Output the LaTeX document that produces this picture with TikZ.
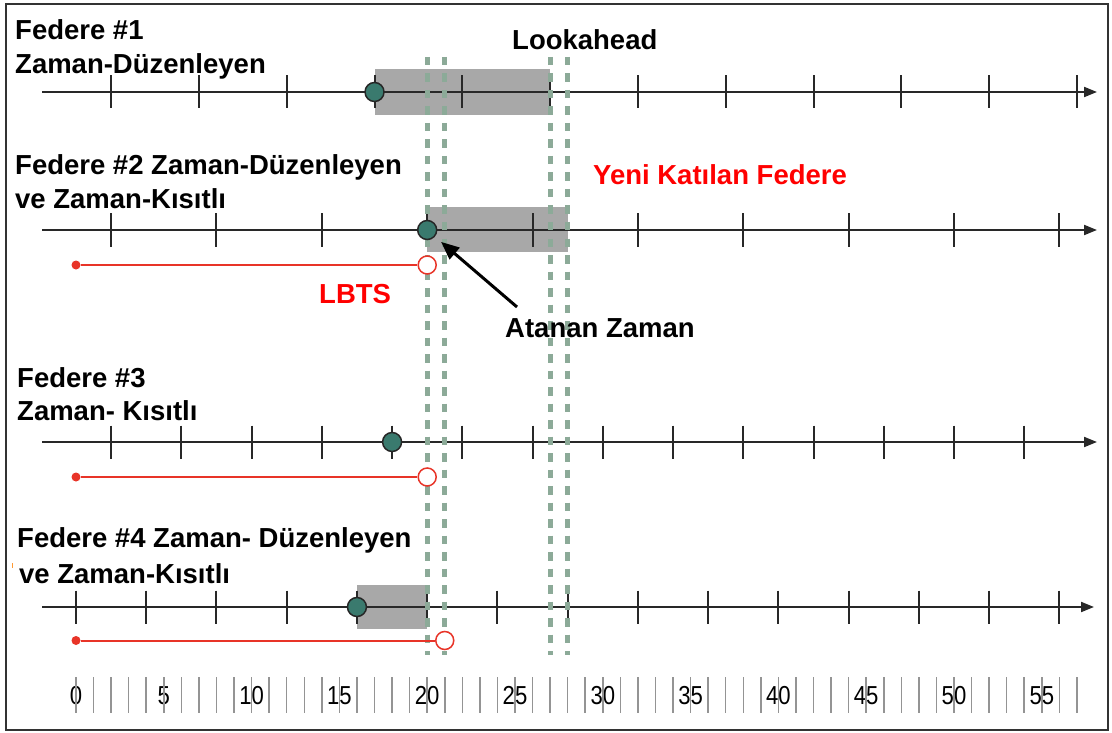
\documentclass[tikz,border=0pt]{standalone}
\usepackage{fontspec}
\setmainfont{Liberation Sans}
\usetikzlibrary{arrows.meta}
\definecolor{teal1}{RGB}{58,122,110}
\definecolor{redl}{RGB}{232,52,40}
\definecolor{guide}{RGB}{140,170,152}
\definecolor{boxg}{RGB}{168,168,168}
\definecolor{axisc}{RGB}{40,40,40}
\newcommand{\nx}[1]{\scalebox{0.85}[1]{#1}}
\begin{document}
\begin{tikzpicture}[x=1pt,y=-1pt,
 lab/.style={font=\fontsize{27.5}{32}\selectfont\bfseries, inner sep=0pt, anchor=base west},
 redlab/.style={lab, text=red},
 axisline/.style={draw=axisc, line width=2pt, -{Triangle[length=13pt,width=10pt]}},
 tickline/.style={draw=axisc, line width=2pt},
 lbox/.style={fill=boxg},
 guideline/.style={draw=guide, line width=5pt, dash pattern=on 8.5pt off 8pt},
 evt/.style={circle, fill=teal1, draw=black!85, line width=1.5pt, minimum size=19pt, inner sep=0pt},
 lstart/.style={circle, fill=redl, minimum size=9pt, inner sep=0pt},
 lend/.style={circle, fill=white, draw=redl, line width=1.5pt, minimum size=18pt, inner sep=0pt},
 lbtsline/.style={draw=redl, line width=2pt},
 rulerline/.style={draw=black!42, line width=1.5pt},
 num/.style={font=\fontsize{26}{28}\selectfont, text=black, inner sep=0pt},
]
\useasboundingbox (0,0) rectangle (1112,733);
\fill[white] (0,0) rectangle (1112,733);
\draw[black!80, line width=2.5pt] (6,4) rectangle (1108,730);

% lookahead boxes
\fill[lbox] ({76+17.56*17},69) rectangle ({76+17.56*27},115);
\fill[lbox] ({76+17.56*20},207) rectangle ({76+17.56*28},252);
\fill[lbox] ({76+17.56*16},585) rectangle ({76+17.56*20},629);

% axes
\draw[axisline] (42,92) -- (1097,92);
\foreach \u in {2,7,...,57} \draw[tickline] ({76+17.56*\u},75.5) -- ++(0,33);
\draw[axisline] (42,230) -- (1097,230);
\foreach \u in {2,8,...,56} \draw[tickline] ({76+17.56*\u},213.5) -- ++(0,33);
\draw[axisline] (42,442) -- (1097,442);
\foreach \u in {2,6,...,54} \draw[tickline] ({76+17.56*\u},425.5) -- ++(0,33);
\draw[axisline] (42,607) -- (1094,607);
\foreach \u in {0,4,...,56} \draw[tickline] ({76+17.56*\u},590.5) -- ++(0,33);

% guide lines
\foreach \u in {20,21,27,28} \draw[guideline] ({76+17.56*\u},57) -- ({76+17.56*\u},655);

% LBTS lines
\node[lstart] (r2a) at (76,265) {};
\node[lend] (r2b) at ({76+17.56*20},265) {};
\draw[lbtsline] (r2a) -- (r2b);
\node[lstart] (r3a) at (76,477) {};
\node[lend] (r3b) at ({76+17.56*20},477) {};
\draw[lbtsline] (r3a) -- (r3b);
\node[lstart] (r4a) at (76,640.5) {};
\node[lend] (r4b) at ({76+17.56*21},640.5) {};
\draw[lbtsline] (r4a) -- (r4b);

% events
\node[evt] (c1) at ({76+17.56*17},92) {};
\node[evt] (c2) at ({76+17.56*20},230) {};
\node[evt] (c3) at ({76+17.56*18},442) {};
\node[evt] (c4) at ({76+17.56*16},607) {};

% labels
\node[lab] (f1a) at (15,40) {Federe \#1};
\node[lab] (f1b) at (15,74) {Zaman-Düzenleyen};
\node[lab] (look) at (512,49.5) {Lookahead};
\node[lab] (f2a) at (15,174.5) {Federe \#2 Zaman-Düzenleyen};
\node[lab] (f2b) at (15,208) {ve Zaman-Kısıtlı};
\node[redlab] (yeni) at (593,185) {Yeni Katılan Federe};
\node[redlab] (lbts) at (319,303) {LBTS};
\node[lab] (atanan) at (505,337) {Atanan Zaman};
\node[lab] (f3a) at (17,387) {Federe \#3};
\node[lab] (f3b) at (17,420) {Zaman- Kısıtlı};
\node[lab] (f4a) at (17,547) {Federe \#4 Zaman- Düzenleyen};
\node[lab] (f4b) at (19,583) {ve Zaman-Kısıtlı};
\fill[orange!80] (11.5,563) rectangle (13,568);

% arrow
\coordinate (atail) at (517,307);
\draw[black, line width=3pt, -{Triangle[length=18pt,width=15pt]}, shorten >=8pt] (atail) -- (c2);

% ruler
\foreach \k in {0,5,...,55} \node[num] (n\k) at ({76+17.56*\k},696) {\nx{\k}};
\foreach \u in {0,...,57} \draw[rulerline] ({76+17.56*\u},677) -- ({76+17.56*\u},713);
\end{tikzpicture}
\end{document}
